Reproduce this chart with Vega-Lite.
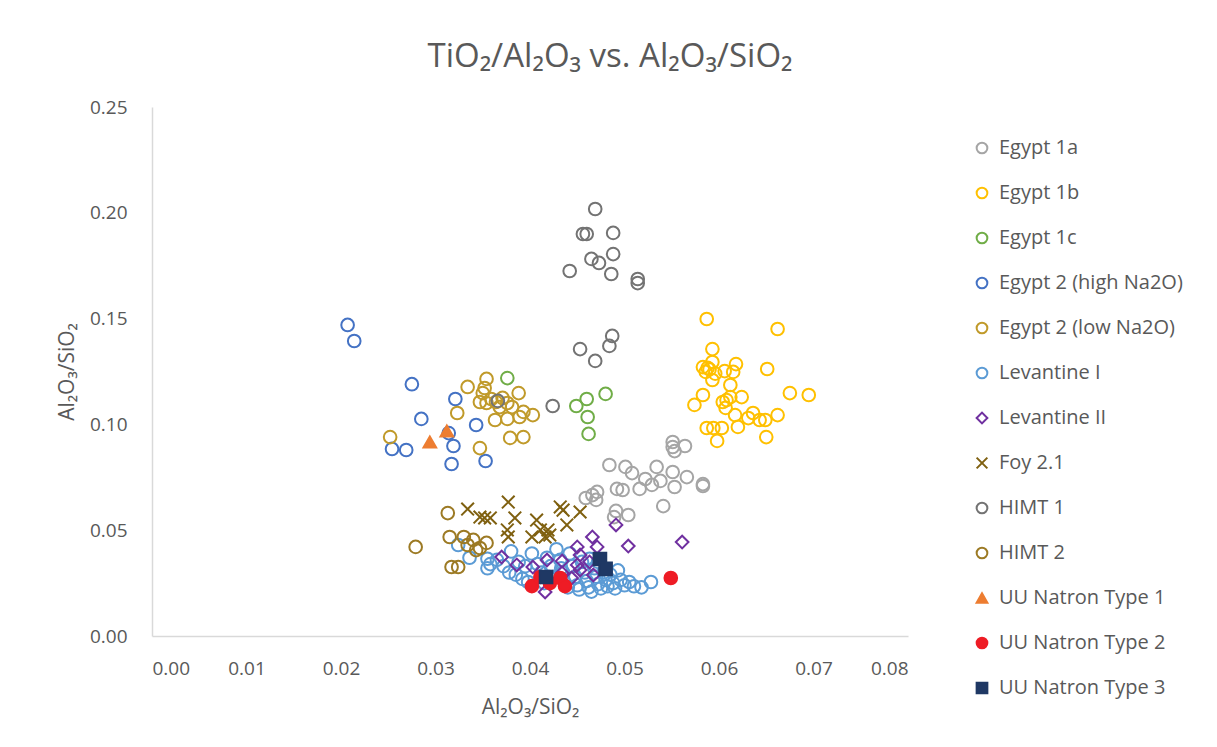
{
  "$schema": "https://vega.github.io/schema/vega-lite/v6.json",
  "width": 756,
  "height": 529,
  "autosize": {"type": "none"},
  "padding": {"left": 152, "top": 107, "right": 309, "bottom": 111},
  "background": "white",
  "title": {
    "text": "TiO₂/Al₂O₃ vs. Al₂O₃/SiO₂",
    "anchor": "middle",
    "frame": "group",
    "dx": 80,
    "offset": 24,
    "fontSize": 33,
    "font": "Open Sans",
    "fontWeight": "normal",
    "color": "#595959"
  },
  "config": {
    "view": {"stroke": null},
    "axis": {
      "domainColor": "#D9D9D9",
      "domainWidth": 1.5,
      "ticks": false,
      "grid": false,
      "labelColor": "#595959",
      "labelFont": "Open Sans",
      "labelFontSize": 19,
      "titleColor": "#595959",
      "titleFont": "Open Sans",
      "titleFontSize": 21,
      "titleFontWeight": "normal"
    },
    "legend": {
      "labelColor": "#595959",
      "labelFont": "Open Sans",
      "labelFontSize": 20,
      "labelLimit": 400,
      "symbolStrokeWidth": 2,
      "symbolSize": 115,
      "rowPadding": 25,
      "labelOffset": 7,
      "padding": 0
    }
  },
  "data": {
    "values": [
      {"series": "Egypt 1a", "x": 0.0484, "y": 0.0808},
      {"series": "Egypt 1a", "x": 0.0501, "y": 0.0799},
      {"series": "Egypt 1a", "x": 0.0508, "y": 0.0770},
      {"series": "Egypt 1a", "x": 0.0534, "y": 0.0799},
      {"series": "Egypt 1a", "x": 0.0551, "y": 0.0917},
      {"series": "Egypt 1a", "x": 0.0551, "y": 0.0893},
      {"series": "Egypt 1a", "x": 0.0553, "y": 0.0874},
      {"series": "Egypt 1a", "x": 0.0564, "y": 0.0898},
      {"series": "Egypt 1a", "x": 0.0522, "y": 0.0742},
      {"series": "Egypt 1a", "x": 0.0538, "y": 0.0733},
      {"series": "Egypt 1a", "x": 0.0529, "y": 0.0714},
      {"series": "Egypt 1a", "x": 0.0516, "y": 0.0695},
      {"series": "Egypt 1a", "x": 0.0553, "y": 0.0704},
      {"series": "Egypt 1a", "x": 0.0566, "y": 0.0751},
      {"series": "Egypt 1a", "x": 0.0551, "y": 0.0775},
      {"series": "Egypt 1a", "x": 0.0583, "y": 0.0718},
      {"series": "Egypt 1a", "x": 0.0583, "y": 0.0709},
      {"series": "Egypt 1a", "x": 0.0492, "y": 0.0695},
      {"series": "Egypt 1a", "x": 0.0498, "y": 0.0690},
      {"series": "Egypt 1a", "x": 0.0471, "y": 0.0681},
      {"series": "Egypt 1a", "x": 0.0466, "y": 0.0666},
      {"series": "Egypt 1a", "x": 0.0459, "y": 0.0652},
      {"series": "Egypt 1a", "x": 0.0470, "y": 0.0643},
      {"series": "Egypt 1a", "x": 0.0491, "y": 0.0591},
      {"series": "Egypt 1a", "x": 0.0504, "y": 0.0572},
      {"series": "Egypt 1a", "x": 0.0541, "y": 0.0614},
      {"series": "Egypt 1a", "x": 0.0489, "y": 0.0562},
      {"series": "Egypt 1b", "x": 0.0587, "y": 0.1498},
      {"series": "Egypt 1b", "x": 0.0662, "y": 0.1451},
      {"series": "Egypt 1b", "x": 0.0593, "y": 0.1356},
      {"series": "Egypt 1b", "x": 0.0583, "y": 0.1271},
      {"series": "Egypt 1b", "x": 0.0588, "y": 0.1267},
      {"series": "Egypt 1b", "x": 0.0593, "y": 0.1295},
      {"series": "Egypt 1b", "x": 0.0586, "y": 0.1248},
      {"series": "Egypt 1b", "x": 0.0590, "y": 0.1260},
      {"series": "Egypt 1b", "x": 0.0596, "y": 0.1240},
      {"series": "Egypt 1b", "x": 0.0593, "y": 0.1210},
      {"series": "Egypt 1b", "x": 0.0606, "y": 0.1252},
      {"series": "Egypt 1b", "x": 0.0618, "y": 0.1285},
      {"series": "Egypt 1b", "x": 0.0615, "y": 0.1248},
      {"series": "Egypt 1b", "x": 0.0612, "y": 0.1186},
      {"series": "Egypt 1b", "x": 0.0651, "y": 0.1262},
      {"series": "Egypt 1b", "x": 0.0583, "y": 0.1139},
      {"series": "Egypt 1b", "x": 0.0574, "y": 0.1092},
      {"series": "Egypt 1b", "x": 0.0604, "y": 0.1106},
      {"series": "Egypt 1b", "x": 0.0612, "y": 0.1129},
      {"series": "Egypt 1b", "x": 0.0608, "y": 0.1115},
      {"series": "Egypt 1b", "x": 0.0624, "y": 0.1129},
      {"series": "Egypt 1b", "x": 0.0607, "y": 0.1078},
      {"series": "Egypt 1b", "x": 0.0617, "y": 0.1044},
      {"series": "Egypt 1b", "x": 0.0620, "y": 0.0988},
      {"series": "Egypt 1b", "x": 0.0636, "y": 0.1054},
      {"series": "Egypt 1b", "x": 0.0643, "y": 0.1021},
      {"series": "Egypt 1b", "x": 0.0649, "y": 0.1021},
      {"series": "Egypt 1b", "x": 0.0662, "y": 0.1044},
      {"series": "Egypt 1b", "x": 0.0675, "y": 0.1148},
      {"series": "Egypt 1b", "x": 0.0695, "y": 0.1139},
      {"series": "Egypt 1b", "x": 0.0587, "y": 0.0983},
      {"series": "Egypt 1b", "x": 0.0594, "y": 0.0983},
      {"series": "Egypt 1b", "x": 0.0603, "y": 0.0983},
      {"series": "Egypt 1b", "x": 0.0598, "y": 0.0922},
      {"series": "Egypt 1b", "x": 0.0650, "y": 0.0940},
      {"series": "Egypt 1b", "x": 0.0631, "y": 0.1030},
      {"series": "Egypt 1c", "x": 0.0376, "y": 0.1219},
      {"series": "Egypt 1c", "x": 0.0449, "y": 0.1087},
      {"series": "Egypt 1c", "x": 0.0460, "y": 0.1120},
      {"series": "Egypt 1c", "x": 0.0480, "y": 0.1144},
      {"series": "Egypt 1c", "x": 0.0461, "y": 0.1035},
      {"series": "Egypt 1c", "x": 0.0462, "y": 0.0955},
      {"series": "Egypt 2 (high Na2O)", "x": 0.0207, "y": 0.1470},
      {"series": "Egypt 2 (high Na2O)", "x": 0.0214, "y": 0.1394},
      {"series": "Egypt 2 (high Na2O)", "x": 0.0275, "y": 0.1190},
      {"series": "Egypt 2 (high Na2O)", "x": 0.0321, "y": 0.1120},
      {"series": "Egypt 2 (high Na2O)", "x": 0.0285, "y": 0.1026},
      {"series": "Egypt 2 (high Na2O)", "x": 0.0343, "y": 0.0997},
      {"series": "Egypt 2 (high Na2O)", "x": 0.0314, "y": 0.0959},
      {"series": "Egypt 2 (high Na2O)", "x": 0.0319, "y": 0.0898},
      {"series": "Egypt 2 (high Na2O)", "x": 0.0269, "y": 0.0879},
      {"series": "Egypt 2 (high Na2O)", "x": 0.0254, "y": 0.0884},
      {"series": "Egypt 2 (high Na2O)", "x": 0.0317, "y": 0.0813},
      {"series": "Egypt 2 (high Na2O)", "x": 0.0353, "y": 0.0827},
      {"series": "Egypt 2 (low Na2O)", "x": 0.0252, "y": 0.0940},
      {"series": "Egypt 2 (low Na2O)", "x": 0.0323, "y": 0.1054},
      {"series": "Egypt 2 (low Na2O)", "x": 0.0334, "y": 0.1177},
      {"series": "Egypt 2 (low Na2O)", "x": 0.0354, "y": 0.1215},
      {"series": "Egypt 2 (low Na2O)", "x": 0.0352, "y": 0.1172},
      {"series": "Egypt 2 (low Na2O)", "x": 0.0350, "y": 0.1148},
      {"series": "Egypt 2 (low Na2O)", "x": 0.0347, "y": 0.1106},
      {"series": "Egypt 2 (low Na2O)", "x": 0.0354, "y": 0.1101},
      {"series": "Egypt 2 (low Na2O)", "x": 0.0371, "y": 0.1125},
      {"series": "Egypt 2 (low Na2O)", "x": 0.0376, "y": 0.1101},
      {"series": "Egypt 2 (low Na2O)", "x": 0.0388, "y": 0.1148},
      {"series": "Egypt 2 (low Na2O)", "x": 0.0381, "y": 0.1082},
      {"series": "Egypt 2 (low Na2O)", "x": 0.0368, "y": 0.1082},
      {"series": "Egypt 2 (low Na2O)", "x": 0.0363, "y": 0.1021},
      {"series": "Egypt 2 (low Na2O)", "x": 0.0376, "y": 0.1026},
      {"series": "Egypt 2 (low Na2O)", "x": 0.0389, "y": 0.1035},
      {"series": "Egypt 2 (low Na2O)", "x": 0.0393, "y": 0.1059},
      {"series": "Egypt 2 (low Na2O)", "x": 0.0403, "y": 0.1044},
      {"series": "Egypt 2 (low Na2O)", "x": 0.0347, "y": 0.0888},
      {"series": "Egypt 2 (low Na2O)", "x": 0.0379, "y": 0.0936},
      {"series": "Egypt 2 (low Na2O)", "x": 0.0393, "y": 0.0940},
      {"series": "Egypt 2 (low Na2O)", "x": 0.0359, "y": 0.1120},
      {"series": "Egypt 2 (low Na2O)", "x": 0.0364, "y": 0.1106},
      {"series": "Levantine I", "x": 0.0324, "y": 0.0430},
      {"series": "Levantine I", "x": 0.0336, "y": 0.0370},
      {"series": "Levantine I", "x": 0.0355, "y": 0.0365},
      {"series": "Levantine I", "x": 0.0358, "y": 0.0340},
      {"series": "Levantine I", "x": 0.0355, "y": 0.0320},
      {"series": "Levantine I", "x": 0.0365, "y": 0.0360},
      {"series": "Levantine I", "x": 0.0372, "y": 0.0330},
      {"series": "Levantine I", "x": 0.0378, "y": 0.0300},
      {"series": "Levantine I", "x": 0.0380, "y": 0.0400},
      {"series": "Levantine I", "x": 0.0385, "y": 0.0290},
      {"series": "Levantine I", "x": 0.0392, "y": 0.0270},
      {"series": "Levantine I", "x": 0.0398, "y": 0.0255},
      {"series": "Levantine I", "x": 0.0402, "y": 0.0390},
      {"series": "Levantine I", "x": 0.0408, "y": 0.0340},
      {"series": "Levantine I", "x": 0.0412, "y": 0.0300},
      {"series": "Levantine I", "x": 0.0415, "y": 0.0250},
      {"series": "Levantine I", "x": 0.0418, "y": 0.0370},
      {"series": "Levantine I", "x": 0.0422, "y": 0.0330},
      {"series": "Levantine I", "x": 0.0425, "y": 0.0280},
      {"series": "Levantine I", "x": 0.0428, "y": 0.0410},
      {"series": "Levantine I", "x": 0.0432, "y": 0.0360},
      {"series": "Levantine I", "x": 0.0435, "y": 0.0300},
      {"series": "Levantine I", "x": 0.0437, "y": 0.0250},
      {"series": "Levantine I", "x": 0.0440, "y": 0.0230},
      {"series": "Levantine I", "x": 0.0442, "y": 0.0390},
      {"series": "Levantine I", "x": 0.0445, "y": 0.0330},
      {"series": "Levantine I", "x": 0.0448, "y": 0.0280},
      {"series": "Levantine I", "x": 0.0450, "y": 0.0240},
      {"series": "Levantine I", "x": 0.0452, "y": 0.0220},
      {"series": "Levantine I", "x": 0.0455, "y": 0.0350},
      {"series": "Levantine I", "x": 0.0458, "y": 0.0300},
      {"series": "Levantine I", "x": 0.0460, "y": 0.0260},
      {"series": "Levantine I", "x": 0.0462, "y": 0.0230},
      {"series": "Levantine I", "x": 0.0465, "y": 0.0210},
      {"series": "Levantine I", "x": 0.0468, "y": 0.0320},
      {"series": "Levantine I", "x": 0.0470, "y": 0.0280},
      {"series": "Levantine I", "x": 0.0472, "y": 0.0245},
      {"series": "Levantine I", "x": 0.0475, "y": 0.0225},
      {"series": "Levantine I", "x": 0.0478, "y": 0.0300},
      {"series": "Levantine I", "x": 0.0480, "y": 0.0265},
      {"series": "Levantine I", "x": 0.0482, "y": 0.0235},
      {"series": "Levantine I", "x": 0.0485, "y": 0.0290},
      {"series": "Levantine I", "x": 0.0488, "y": 0.0250},
      {"series": "Levantine I", "x": 0.0490, "y": 0.0225},
      {"series": "Levantine I", "x": 0.0493, "y": 0.0310},
      {"series": "Levantine I", "x": 0.0496, "y": 0.0265},
      {"series": "Levantine I", "x": 0.0500, "y": 0.0240},
      {"series": "Levantine I", "x": 0.0505, "y": 0.0255},
      {"series": "Levantine I", "x": 0.0510, "y": 0.0235},
      {"series": "Levantine I", "x": 0.0518, "y": 0.0230},
      {"series": "Levantine I", "x": 0.0528, "y": 0.0255},
      {"series": "Levantine I", "x": 0.0463, "y": 0.0365},
      {"series": "Levantine I", "x": 0.0472, "y": 0.0350},
      {"series": "Levantine I", "x": 0.0433, "y": 0.0320},
      {"series": "Levantine I", "x": 0.0420, "y": 0.0280},
      {"series": "Levantine I", "x": 0.0395, "y": 0.0330},
      {"series": "Levantine I", "x": 0.0388, "y": 0.0350},
      {"series": "Levantine II", "x": 0.0491, "y": 0.0525},
      {"series": "Levantine II", "x": 0.0561, "y": 0.0444},
      {"series": "Levantine II", "x": 0.0504, "y": 0.0425},
      {"series": "Levantine II", "x": 0.0466, "y": 0.0468},
      {"series": "Levantine II", "x": 0.0471, "y": 0.0421},
      {"series": "Levantine II", "x": 0.0450, "y": 0.0421},
      {"series": "Levantine II", "x": 0.0453, "y": 0.0383},
      {"series": "Levantine II", "x": 0.0370, "y": 0.0373},
      {"series": "Levantine II", "x": 0.0386, "y": 0.0336},
      {"series": "Levantine II", "x": 0.0403, "y": 0.0326},
      {"series": "Levantine II", "x": 0.0418, "y": 0.0359},
      {"series": "Levantine II", "x": 0.0434, "y": 0.0354},
      {"series": "Levantine II", "x": 0.0450, "y": 0.0336},
      {"series": "Levantine II", "x": 0.0467, "y": 0.0288},
      {"series": "Levantine II", "x": 0.0416, "y": 0.0208},
      {"series": "Levantine II", "x": 0.0453, "y": 0.0312},
      {"series": "Levantine II", "x": 0.0434, "y": 0.0298},
      {"series": "Levantine II", "x": 0.0444, "y": 0.0274},
      {"series": "Levantine II", "x": 0.0463, "y": 0.0350},
      {"series": "Foy 2.1", "x": 0.0334, "y": 0.0600},
      {"series": "Foy 2.1", "x": 0.0347, "y": 0.0562},
      {"series": "Foy 2.1", "x": 0.0352, "y": 0.0558},
      {"series": "Foy 2.1", "x": 0.0358, "y": 0.0558},
      {"series": "Foy 2.1", "x": 0.0377, "y": 0.0633},
      {"series": "Foy 2.1", "x": 0.0384, "y": 0.0558},
      {"series": "Foy 2.1", "x": 0.0376, "y": 0.0501},
      {"series": "Foy 2.1", "x": 0.0377, "y": 0.0468},
      {"series": "Foy 2.1", "x": 0.0407, "y": 0.0548},
      {"series": "Foy 2.1", "x": 0.0411, "y": 0.0501},
      {"series": "Foy 2.1", "x": 0.0402, "y": 0.0468},
      {"series": "Foy 2.1", "x": 0.0416, "y": 0.0468},
      {"series": "Foy 2.1", "x": 0.0421, "y": 0.0477},
      {"series": "Foy 2.1", "x": 0.0432, "y": 0.0610},
      {"series": "Foy 2.1", "x": 0.0435, "y": 0.0595},
      {"series": "Foy 2.1", "x": 0.0439, "y": 0.0525},
      {"series": "Foy 2.1", "x": 0.0453, "y": 0.0586},
      {"series": "Foy 2.1", "x": 0.0419, "y": 0.0501},
      {"series": "HIMT 1", "x": 0.0469, "y": 0.2018},
      {"series": "HIMT 1", "x": 0.0456, "y": 0.1900},
      {"series": "HIMT 1", "x": 0.0460, "y": 0.1900},
      {"series": "HIMT 1", "x": 0.0488, "y": 0.1905},
      {"series": "HIMT 1", "x": 0.0465, "y": 0.1782},
      {"series": "HIMT 1", "x": 0.0473, "y": 0.1763},
      {"series": "HIMT 1", "x": 0.0488, "y": 0.1805},
      {"series": "HIMT 1", "x": 0.0442, "y": 0.1725},
      {"series": "HIMT 1", "x": 0.0486, "y": 0.1711},
      {"series": "HIMT 1", "x": 0.0514, "y": 0.1687},
      {"series": "HIMT 1", "x": 0.0514, "y": 0.1668},
      {"series": "HIMT 1", "x": 0.0453, "y": 0.1356},
      {"series": "HIMT 1", "x": 0.0469, "y": 0.1300},
      {"series": "HIMT 1", "x": 0.0484, "y": 0.1371},
      {"series": "HIMT 1", "x": 0.0487, "y": 0.1418},
      {"series": "HIMT 1", "x": 0.0424, "y": 0.1087},
      {"series": "HIMT 1", "x": 0.0366, "y": 0.1111},
      {"series": "HIMT 2", "x": 0.0313, "y": 0.0581},
      {"series": "HIMT 2", "x": 0.0279, "y": 0.0421},
      {"series": "HIMT 2", "x": 0.0315, "y": 0.0468},
      {"series": "HIMT 2", "x": 0.0330, "y": 0.0468},
      {"series": "HIMT 2", "x": 0.0340, "y": 0.0454},
      {"series": "HIMT 2", "x": 0.0334, "y": 0.0430},
      {"series": "HIMT 2", "x": 0.0347, "y": 0.0416},
      {"series": "HIMT 2", "x": 0.0354, "y": 0.0440},
      {"series": "HIMT 2", "x": 0.0317, "y": 0.0326},
      {"series": "HIMT 2", "x": 0.0324, "y": 0.0326},
      {"series": "HIMT 2", "x": 0.0343, "y": 0.0406},
      {"series": "UU Natron Type 1", "x": 0.0294, "y": 0.0917},
      {"series": "UU Natron Type 1", "x": 0.0312, "y": 0.0969},
      {"series": "UU Natron Type 2", "x": 0.0402, "y": 0.0236},
      {"series": "UU Natron Type 2", "x": 0.0411, "y": 0.0279},
      {"series": "UU Natron Type 2", "x": 0.0421, "y": 0.0250},
      {"series": "UU Natron Type 2", "x": 0.0432, "y": 0.0274},
      {"series": "UU Natron Type 2", "x": 0.0437, "y": 0.0236},
      {"series": "UU Natron Type 2", "x": 0.0549, "y": 0.0274},
      {"series": "UU Natron Type 3", "x": 0.0417, "y": 0.0279},
      {"series": "UU Natron Type 3", "x": 0.0474, "y": 0.0364},
      {"series": "UU Natron Type 3", "x": 0.0480, "y": 0.0317}
    ]
  },
  "mark": {"type": "point", "size": 160, "strokeWidth": 2, "opacity": 1},
  "encoding": {
    "x": {
      "field": "x",
      "type": "quantitative",
      "scale": {"domain": [0, 0.08], "nice": false, "zero": false},
      "axis": {
        "title": "Al₂O₃/SiO₂",
        "format": ".2f",
        "values": [0, 0.01, 0.02, 0.03, 0.04, 0.05, 0.06, 0.07, 0.08],
        "labelPadding": 23,
        "titlePadding": 18
      }
    },
    "y": {
      "field": "y",
      "type": "quantitative",
      "scale": {"domain": [0, 0.25], "nice": false, "zero": false},
      "axis": {
        "title": "Al₂O₃/SiO₂",
        "format": ".2f",
        "values": [0, 0.05, 0.1, 0.15, 0.2, 0.25],
        "labelPadding": 25,
        "titlePadding": 12
      }
    },
    "stroke": {
      "field": "series",
      "type": "nominal",
      "title": null,
      "scale": {
        "domain": ["Egypt 1a", "Egypt 1b", "Egypt 1c", "Egypt 2 (high Na2O)", "Egypt 2 (low Na2O)", "Levantine I", "Levantine II", "Foy 2.1", "HIMT 1", "HIMT 2", "UU Natron Type 1", "UU Natron Type 2", "UU Natron Type 3"],
        "range": ["#A5A5A5", "#FFC000", "#70AD47", "#4472C4", "#C09A2A", "#5B9BD5", "#7030A0", "#7F6010", "#737373", "#9C7A24", "#ED7D31", "#EE1C25", "#1F3864"]
      },
      "legend": {"orient": "none", "legendX": 820, "legendY": 31}
    },
    "fill": {
      "field": "series",
      "type": "nominal",
      "title": null,
      "scale": {
        "domain": ["Egypt 1a", "Egypt 1b", "Egypt 1c", "Egypt 2 (high Na2O)", "Egypt 2 (low Na2O)", "Levantine I", "Levantine II", "Foy 2.1", "HIMT 1", "HIMT 2", "UU Natron Type 1", "UU Natron Type 2", "UU Natron Type 3"],
        "range": ["transparent", "transparent", "transparent", "transparent", "transparent", "transparent", "transparent", "transparent", "transparent", "transparent", "#ED7D31", "#EE1C25", "#1F3864"]
      },
      "legend": {"orient": "none", "legendX": 820, "legendY": 31}
    },
    "shape": {
      "field": "series",
      "type": "nominal",
      "title": null,
      "scale": {
        "domain": ["Egypt 1a", "Egypt 1b", "Egypt 1c", "Egypt 2 (high Na2O)", "Egypt 2 (low Na2O)", "Levantine I", "Levantine II", "Foy 2.1", "HIMT 1", "HIMT 2", "UU Natron Type 1", "UU Natron Type 2", "UU Natron Type 3"],
        "range": ["circle", "circle", "circle", "circle", "circle", "circle", "diamond", "M-1,-1L1,1M-1,1L1,-1", "circle", "circle", "triangle-up", "circle", "square"]
      },
      "legend": {"orient": "none", "legendX": 820, "legendY": 31}
    }
  }
}
